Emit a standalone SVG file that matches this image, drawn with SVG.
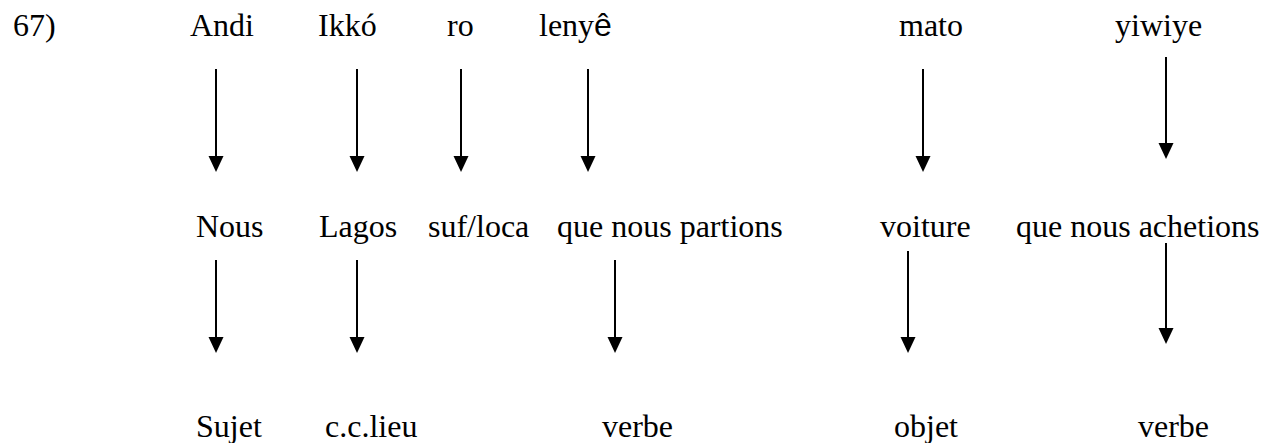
<svg xmlns="http://www.w3.org/2000/svg" width="1270" height="443" viewBox="0 0 1270 443">
<style>
  text { font-family: "Liberation Serif", "Times New Roman", serif; font-size: 32px; fill: #000; }
  .sans { font-family: "Liberation Sans", Arial, sans-serif; }
  .arr { stroke: #000; stroke-width: 2; fill: none; marker-end: url(#ah); }
</style>
<defs>
  <marker id="ah" markerUnits="userSpaceOnUse" markerWidth="17" markerHeight="16" refX="2" refY="7.5" orient="auto" viewBox="0 0 17 15">
    <path d="M0,0 L16,7.5 L0,15 z" fill="#000"/>
  </marker>
</defs>
<rect width="1270" height="443" fill="#fff"/>
<g id="num"><text x="13" y="36">67)</text></g>
<g id="row1">
  <g id="n-andi"><text x="190" y="36">Andi</text></g>
  <g id="n-ikko"><text x="318" y="36">Ikkó</text></g>
  <g id="n-ro"><text x="447" y="36">ro</text></g>
  <g id="n-lenye"><text x="539" y="36">leny<tspan class="sans">ê</tspan></text></g>
  <g id="n-mato"><text x="899" y="36">mato</text></g>
  <g id="n-yiwiye"><text x="1115" y="36">yiwiye</text></g>
</g>
<g id="row2">
  <g id="n-nous"><text x="196" y="237">Nous</text></g>
  <g id="n-lagos"><text x="319" y="237">Lagos</text></g>
  <g id="n-sufloca"><text x="428" y="237">suf/loca</text></g>
  <g id="n-partions"><text x="557" y="237">que nous partions</text></g>
  <g id="n-voiture"><text x="880" y="237">voiture</text></g>
  <g id="n-achetions"><text x="1016" y="237">que nous achetions</text></g>
</g>
<g id="row3">
  <g id="n-sujet"><text x="196" y="437">Sujet</text></g>
  <g id="n-cclieu"><text x="325" y="437">c.c.lieu</text></g>
  <g id="n-verbe1"><text x="602" y="437">verbe</text></g>
  <g id="n-objet"><text x="894" y="437">objet</text></g>
  <g id="n-verbe2"><text x="1138" y="437">verbe</text></g>
</g>
<g id="connectors">
  <line class="arr" x1="216" y1="69" x2="216" y2="158"/>
  <line class="arr" x1="357" y1="69" x2="357" y2="158"/>
  <line class="arr" x1="461" y1="69" x2="461" y2="158"/>
  <line class="arr" x1="588" y1="69" x2="588" y2="158"/>
  <line class="arr" x1="923" y1="69" x2="923" y2="158"/>
  <line class="arr" x1="1166" y1="57" x2="1166" y2="145"/>
  <line class="arr" x1="216" y1="260" x2="216" y2="339"/>
  <line class="arr" x1="357" y1="260" x2="357" y2="339"/>
  <line class="arr" x1="615" y1="260" x2="615" y2="339"/>
  <line class="arr" x1="908" y1="251" x2="908" y2="339"/>
  <line class="arr" x1="1166" y1="243" x2="1166" y2="330"/>
</g>
</svg>
